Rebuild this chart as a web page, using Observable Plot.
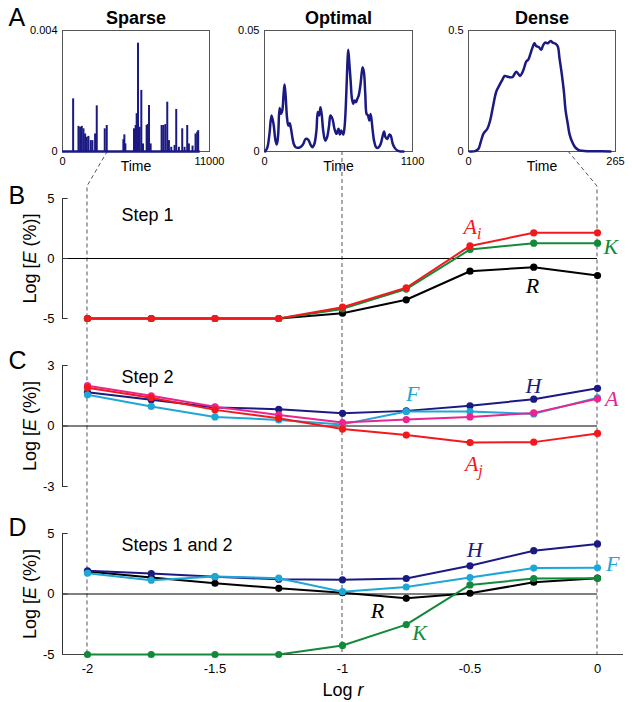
<!DOCTYPE html>
<html>
<head>
<meta charset="utf-8">
<script src="https://cdn.jsdelivr.net/npm/d3@7"></script>
<script src="https://cdn.jsdelivr.net/npm/@observablehq/plot@0.6"></script>
<style>
  body { margin: 0; background: #fff; }
  #chart { position: relative; width: 632px; height: 702px; font-family: "Liberation Sans", Arial, sans-serif; overflow: hidden; }
  #chart > svg { position: absolute; }
</style>
</head>
<body>
<div id="chart"></div>
<script>
// ---------------- data ----------------
const logR = [-2, -1.75, -1.5, -1.25, -1, -0.75, -0.5, -0.25, 0];

// Panel B: Step 1
const step1Ai = [-5, -5, -5, -5, -4.06, -2.44, 1.05, 2.14, 2.14];
const step1K  = [-5, -5, -5, -5, -4.2, -2.55, 0.75, 1.28, 1.28];
const step1R  = [-5, -5, -5, -5, -4.56, -3.44, -1.06, -0.72, -1.42];

// Panel C: Step 2
const step2H  = [1.67, 1.3, 0.92, 0.83, 0.63, 0.75, 1.0, 1.33, 1.87];
const step2F  = [1.55, 0.97, 0.45, 0.3, 0.08, 0.72, 0.72, 0.6, 1.4];
const step2A  = [2.0, 1.5, 0.95, 0.55, 0.17, 0.32, 0.45, 0.65, 1.35];
const step2Aj = [1.9, 1.4, 0.8, 0.38, -0.15, -0.45, -0.82, -0.8, -0.37];

// Panel D: Steps 1 and 2
const bothH = [1.92, 1.69, 1.42, 1.22, 1.17, 1.28, 2.33, 3.58, 4.14];
const bothF = [1.72, 1.14, 1.44, 1.31, 0.19, 0.58, 1.36, 2.14, 2.17];
const bothR = [1.86, 1.36, 0.89, 0.47, 0.11, -0.36, 0.06, 0.97, 1.31];
const bothK = [-5, -5, -5, -5, -4.25, -2.53, 0.75, 1.28, 1.3];

// Panel A: time courses
const sparseTime   = [796, 1195, 1319, 1443, 1568, 1692, 1817, 1941, 2115, 2240, 2439, 2563, 3161, 3310, 4554, 4629, 4704, 5351, 5475, 5550, 5649, 5774, 5898, 6023, 6296, 6371, 6471, 6595, 7416, 7541, 7690, 7839, 7964, 8138, 8387, 8511, 8710, 8959, 9133, 9333, 9457, 9731, 9955, 10079, 10154];
const sparseHeight = [0.00174, 0.00083, 0.0008, 0.00083, 0.00075, 0.00058, 0.00047, 0.0005, 0.00036, 0.00036, 0.00058, 0.00151, 0.00075, 0.00086, 0.00039, 0.00055, 0.00025, 0.00075, 0.00086, 0.00125, 0.00358, 0.0008, 0.00202, 0.00025, 0.00086, 0.00089, 0.00152, 0.00025, 0.00086, 0.00086, 0.00089, 0.00163, 0.00036, 0.00014, 0.0002, 0.00139, 0.00014, 0.00075, 0.00014, 0.00086, 0.00025, 0.00018, 0.00058, 0.00064, 0.00069];

const optimalTime  = [5, 22, 37, 52, 67, 82, 92, 102, 112, 122, 132, 142, 149, 157, 167, 177, 187, 197, 207, 217, 231, 246, 266, 286, 306, 326, 341, 356, 371, 386, 396, 406, 416, 426, 436, 451, 465, 480, 490, 505, 520, 535, 550, 560, 570, 585, 595, 605, 615, 622, 630, 640, 650, 660, 670, 680, 690, 700, 714, 729, 739, 749, 759, 769, 779, 789, 804, 814, 829, 844, 864, 879, 889, 899, 913, 928, 938, 953, 968, 988, 1013, 1033];
const optimalValue = [0, 0.0018, 0.0073, 0.0149, 0.0114, 0.0045, 0.0029, 0.0073, 0.018, 0.0156, 0.0169, 0.0238, 0.0277, 0.0231, 0.0142, 0.0107, 0.0117, 0.0094, 0.0059, 0.0032, 0.0018, 0.0015, 0.0018, 0.0029, 0.0052, 0.0048, 0.0029, 0.0018, 0.0032, 0.0087, 0.0163, 0.0149, 0.0183, 0.0149, 0.0087, 0.0045, 0.0059, 0.0107, 0.0149, 0.0135, 0.0094, 0.0073, 0.0094, 0.007, 0.0087, 0.007, 0.0101, 0.0197, 0.0348, 0.042, 0.0369, 0.0293, 0.0218, 0.0197, 0.0211, 0.0204, 0.0218, 0.0231, 0.0279, 0.0348, 0.0327, 0.0238, 0.0155, 0.0149, 0.0128, 0.0155, 0.0087, 0.0045, 0.0018, 0.0015, 0.0032, 0.0066, 0.0083, 0.0059, 0.0052, 0.007, 0.0066, 0.0032, 0.0015, 0.0004, 0, 0];

const denseTime  = [2, 12, 18, 22, 27, 34, 39, 44, 50, 56, 61, 65, 69, 74, 79, 82, 86, 90, 93, 97, 101, 104, 108, 111, 115, 119, 122, 127, 131, 134, 138, 143, 148, 152, 157, 161, 164, 168, 172, 175, 179, 182, 187, 192, 198, 205, 214, 226, 256];
const denseValue = [0, 0.0014, 0.011, 0.039, 0.074, 0.094, 0.128, 0.184, 0.247, 0.275, 0.296, 0.312, 0.31, 0.307, 0.307, 0.316, 0.33, 0.32, 0.312, 0.326, 0.351, 0.371, 0.381, 0.399, 0.427, 0.447, 0.436, 0.431, 0.42, 0.436, 0.45, 0.447, 0.457, 0.45, 0.445, 0.434, 0.386, 0.323, 0.247, 0.17, 0.114, 0.073, 0.039, 0.018, 0.007, 0.003, 0.001, 0.001, 0];

// ticks
const ticksB = [-5, 0, 5];
const ticksC = [-3, 0, 3];
const ticksD = [-5, 0, 5];
const ticksLogR = [-2, -1.5, -1, -0.5, 0];
const markedLogR = [-2, -1, 0];   // dashed guides
const sparseLinkTime = 3400;      // where the Sparse axis links to Log r = -2
const denseLinkTime = 180;        // where the Dense axis links to Log r = 0

// ---------------- styles ----------------
const SANS = "Liberation Sans, Arial, sans-serif";
const SERIF = "Liberation Serif, Times New Roman, serif";
const C = { red: "#f2191c", green: "#128a3a", navy: "#1b1a82", cyan: "#1ea7d6", magenta: "#ea2590", black: "#000000" };
const xDom = [-2.098, 0.102];

const chart = document.getElementById("chart");
function place(svg, left, top) { svg.style.left = left + "px"; svg.style.top = top + "px"; chart.appendChild(svg); return svg; }

// ---------------- top panels ----------------
function topPanel(cfg) {
  return Plot.plot({
    width: 60 + cfg.frameW + 25, height: 181,
    marginLeft: 60, marginRight: 25, marginTop: 30, marginBottom: 30,
    style: { background: "transparent", overflow: "visible", fontFamily: SANS, fontSize: "11px" },
    x: { domain: [0, cfg.tMax] },
    y: { domain: [0, cfg.vMax] },
    marks: [
      Plot.frame({ stroke: "#555" }),
      Plot.axisY([0, cfg.vMax], { tickSize: 0, tickPadding: 5, tickFormat: String, fontSize: 11, label: null }),
      Plot.axisX([0, cfg.tMax], { tickSize: 0, tickPadding: 6, tickFormat: String, fontSize: 11, label: null }),
      ...cfg.marks,
      Plot.text(["Time"], { frameAnchor: "bottom", lineAnchor: "middle", dy: 15, fontSize: 14 }),
      Plot.text([cfg.title], { frameAnchor: "top", lineAnchor: "middle", dy: -12, fontSize: 18, fontWeight: "bold" }),
      ...(cfg.letter ? [Plot.text([cfg.letter], { frameAnchor: "top-left", textAnchor: "start", lineAnchor: "middle", dx: -54, dy: -13, fontSize: 25 })] : [])
    ]
  });
}

const sparse = place(topPanel({
  frameW: 147, tMax: 11000, vMax: 0.004, title: "Sparse", letter: "A",
  marks: [
    Plot.ruleY([0], { x1: 0, x2: 10300, stroke: C.navy, strokeWidth: 2.5 }),
    Plot.ruleX(sparseTime, { x: d => d, y1: 0, y2: (d, i) => sparseHeight[i], stroke: C.navy, strokeWidth: 2 })
  ]
}), 2, 0);

const optimal = place(topPanel({
  frameW: 148, tMax: 1100, vMax: 0.05, title: "Optimal",
  marks: [Plot.line(optimalTime, { x: d => d, y: (d, i) => optimalValue[i], stroke: C.navy, strokeWidth: 2.5, curve: "catmull-rom" })]
}), 204, 0);

const dense = place(topPanel({
  frameW: 147, tMax: 265, vMax: 0.5, title: "Dense",
  marks: [Plot.line(denseTime, { x: d => d, y: (d, i) => denseValue[i], stroke: C.navy, strokeWidth: 2.5, curve: "catmull-rom" })]
}), 408, 0);

// ---------------- Log r panels ----------------
function lrPanel(cfg) {
  const marks = [
    Plot.ruleY([0], { x1: xDom[0], x2: 0, stroke: "#000", strokeWidth: 1 }),
    Plot.ruleX([xDom[0]], { y1: cfg.yDomain[0], y2: cfg.yDomain[1], stroke: "#333" }),
    Plot.ruleY(cfg.yTicks, { x1: xDom[0], x2: xDom[0] + 0.022, stroke: "#333" }),
    Plot.axisY(cfg.yTicks, { tickSize: 0, tickPadding: 8, tickFormat: String, fontSize: 13, label: null }),
    Plot.text(["Log [E (%)]"], { frameAnchor: "left", textAnchor: "middle", lineAnchor: "middle", dx: -32, rotate: -90, fontSize: 18 }),
    Plot.text([cfg.letter], { frameAnchor: "top-left", textAnchor: "start", lineAnchor: "middle", dx: -54, dy: cfg.letterDy, fontSize: 25 }),
    Plot.text([cfg.step], { x: -1.867, y: cfg.stepY, textAnchor: "start", fontSize: 18 })
  ];
  if (cfg.xAxis) {
    marks.push(
      Plot.ruleY([cfg.yDomain[0]], { stroke: "#444" }),
      Plot.axisX(ticksLogR, { tickSize: 0, tickPadding: 9, tickFormat: String, fontSize: 13, label: null }),
      Plot.text(["Log r"], { frameAnchor: "bottom", lineAnchor: "middle", dy: 36, fontSize: 18 })
    );
  }
  for (const s of cfg.series) {
    marks.push(
      Plot.line(s.values, { x: (d, i) => logR[i], y: d => d, stroke: s.color, strokeWidth: 2 }),
      Plot.dot(s.values, { x: (d, i) => logR[i], y: d => d, r: 3.6, fill: s.color })
    );
  }
  for (const l of cfg.labels) {
    marks.push(Plot.text([l.text], { x: l.x, y: l.y, fill: l.color, fontFamily: SERIF, fontStyle: "italic", fontSize: 22 }));
  }
  return Plot.plot({
    width: 632, height: cfg.height,
    marginLeft: 62, marginRight: 9, marginTop: cfg.marginTop, marginBottom: cfg.marginBottom,
    style: { background: "transparent", overflow: "visible", fontFamily: SANS, fontSize: "13px" },
    x: { domain: xDom, axis: cfg.xAxis ? undefined : null },
    y: { domain: cfg.yDomain },
    marks
  });
}

const topB = 175, topC = 335, topD = 495;

const panelB = place(lrPanel({
  height: 155, marginTop: 23, marginBottom: 12, yDomain: [-5, 5], yTicks: ticksB,
  letter: "B", letterDy: -3, step: "Step 1", stepY: 3.58,
  series: [
    { values: step1R, color: C.black },
    { values: step1K, color: C.green },
    { values: step1Ai, color: C.red }
  ],
  labels: [
    { text: "Ai", x: -0.49, y: 2.6, color: C.red },
    { text: "K", x: 0.052, y: 1.0, color: C.green },
    { text: "R", x: -0.255, y: -2.25, color: C.black }
  ]
}), 0, topB);

const panelC = place(lrPanel({
  height: 160, marginTop: 30, marginBottom: 9, yDomain: [-3, 3], yTicks: ticksC,
  letter: "C", letterDy: -5, step: "Step 2", stepY: 2.4,
  series: [
    { values: step2H, color: C.navy },
    { values: step2F, color: C.cyan },
    { values: step2A, color: C.magenta },
    { values: step2Aj, color: C.red }
  ],
  labels: [
    { text: "F", x: -0.725, y: 1.6, color: C.cyan },
    { text: "H", x: -0.251, y: 1.98, color: C.navy },
    { text: "A", x: 0.056, y: 1.35, color: C.magenta },
    { text: "Aj", x: -0.485, y: -1.9, color: C.red }
  ]
}), 0, topC);

const panelD = place(lrPanel({
  height: 207, marginTop: 38, marginBottom: 48, yDomain: [-5, 5], yTicks: ticksD,
  letter: "D", letterDy: -6, step: "Steps 1 and 2", stepY: 4.0,
  xAxis: true,
  series: [
    { values: bothR, color: C.black },
    { values: bothH, color: C.navy },
    { values: bothF, color: C.cyan },
    { values: bothK, color: C.green }
  ],
  labels: [
    { text: "H", x: -0.482, y: 3.6, color: C.navy },
    { text: "F", x: 0.06, y: 2.5, color: C.cyan },
    { text: "R", x: -0.863, y: -1.42, color: C.black },
    { text: "K", x: -0.698, y: -3.25, color: C.green }
  ]
}), 0, topD);

// ---------------- rich text (italics, subscripts) ----------------
const richMap = {
  "Log [E (%)]": [{ t: "Log [" }, { t: "E", italic: true }, { t: " (%)]" }],
  "Log r": [{ t: "Log " }, { t: "r", italic: true }],
  "Ai": [{ t: "A" }, { t: "i", sub: true }],
  "Aj": [{ t: "A" }, { t: "j", sub: true }]
};
for (const svg of [panelB, panelC, panelD]) {
  d3.select(svg).selectAll("text").each(function () {
    const parts = richMap[this.textContent];
    if (!parts) return;
    const sel = d3.select(this);
    sel.text(null);
    for (const p of parts) {
      const ts = sel.append("tspan").text(p.t);
      if (p.italic) ts.attr("font-style", "italic");
      if (p.sub) ts.attr("font-size", "72%").attr("dy", "0.32em");
    }
  });
}

// ---------------- dashed guides (through the plots' scales) ----------------
const sx = sparse.scale("x"), sy = sparse.scale("y");
const oy = optimal.scale("y");
const nx = dense.scale("x"), ny = dense.scale("y");
const bx = panelB.scale("x"), by = panelB.scale("y");
const dY = panelD.scale("y");
const kneeY = topB + by.apply(6);
const bottomY = topD + dY.apply(-5);
const guides = [
  [[2 + sx.apply(sparseLinkTime), sy.apply(0)], [bx.apply(markedLogR[0]), kneeY], [bx.apply(markedLogR[0]), bottomY]],
  [[bx.apply(markedLogR[1]), oy.apply(0)], [bx.apply(markedLogR[1]), bottomY]],
  [[408 + nx.apply(denseLinkTime), ny.apply(0)], [bx.apply(markedLogR[2]), kneeY], [bx.apply(markedLogR[2]), bottomY]]
];
const overlay = d3.create("svg").attr("width", 632).attr("height", 702)
  .style("position", "absolute").style("left", "0px").style("top", "0px");
overlay.selectAll("path").data(guides).join("path")
  .attr("d", d3.line())
  .attr("fill", "none").attr("stroke", "#555").attr("stroke-width", 1).attr("stroke-dasharray", "4,3");
chart.prepend(overlay.node());
</script>
</body>
</html>
